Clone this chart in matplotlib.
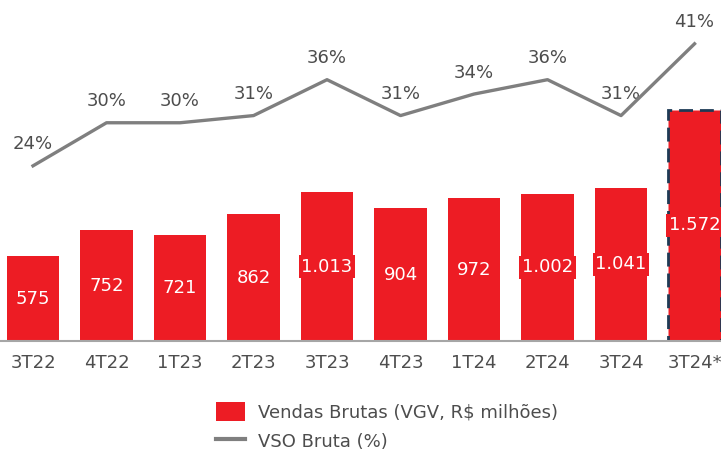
import matplotlib
matplotlib.use('Agg')
import matplotlib.pyplot as plt
from matplotlib.patches import Patch
from matplotlib.lines import Line2D

quarters = ['3T22', '4T22', '1T23', '2T23', '3T23', '4T23', '1T24', '2T24', '3T24', '3T24*']
vendas = [575, 752, 721, 862, 1013, 904, 972, 1002, 1041, 1572]
vendas_labels = ['575', '752', '721', '862', '1.013', '904', '972', '1.002', '1.041', '1.572']
vso = [24, 30, 30, 31, 36, 31, 34, 36, 31, 41]

RED = '#ED1C24'
GRAY = '#7f7f7f'
TXT = '#4d4d4d'

plt.rcParams['font.family'] = ['DejaVu Sans']

fig = plt.figure(figsize=(7.21, 4.55), dpi=100)
ax = fig.add_axes([0, 114 / 455, 1, 341 / 455])
x = list(range(len(quarters)))

bars = ax.bar(x, vendas, width=0.72, color=RED, zorder=2)
last = bars[-1]
last.set_edgecolor('#1d3a55')
last.set_linewidth(2)
last.set_linestyle((0, (5, 2.5)))

for xi, v, lab in zip(x, vendas, vendas_labels):
    ax.text(xi, v / 2, lab, ha='center', va='center', color='white', fontsize=13,
            bbox=dict(boxstyle='square,pad=0.15', fc=RED, ec='none'), zorder=3)

ax.set_xlim(-0.449, 9.36)
ax.set_ylim(0, 2320)
ax.set_yticks([])
ax.set_xticks(x)
ax.set_xticklabels(quarters, fontsize=13, color=TXT)
ax.tick_params(axis='x', length=0, pad=9)
for s in ['top', 'left', 'right']:
    ax.spines[s].set_visible(False)
ax.spines['bottom'].set_color('#a6a6a6')
ax.spines['bottom'].set_linewidth(1.5)

ax2 = ax.twinx()
ax2.plot(x, vso, color=GRAY, lw=2.4, zorder=4)
ax2.set_ylim(-0.4, 47.1)
ax2.set_xlim(-0.449, 9.36)
ax2.axis('off')
for xi, v in zip(x, vso):
    ax2.annotate(f'{v}%', (xi, v), xytext=(0, 15.5), textcoords='offset points',
                 ha='center', va='center', fontsize=13, color=TXT)

handles = [Patch(facecolor=RED, edgecolor='none'),
           Line2D([0], [0], color=GRAY, lw=3)]
fig.legend(handles, ['Vendas Brutas (VGV, R$ milhões)', 'VSO Bruta (%)'],
           loc='upper left', bbox_to_anchor=(0.29, 0.132), frameon=False,
           fontsize=13, labelcolor=TXT, handlelength=1.6, handleheight=1.2,
           handletextpad=0.7, labelspacing=0.55, borderaxespad=0)

fig.savefig('out.png', dpi=100)
